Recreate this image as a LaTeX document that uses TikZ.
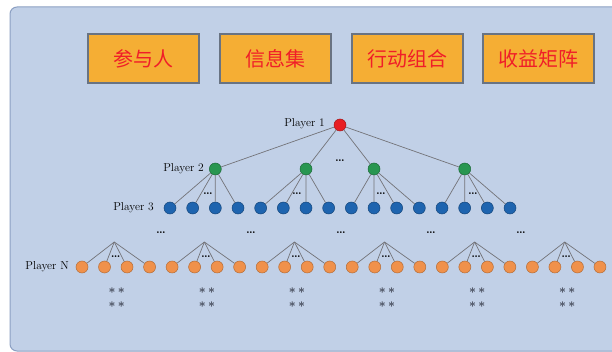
\documentclass[tikz,border=0pt]{standalone}
\usepackage{fontspec}
\newfontfamily\cjk{Noto Sans CJK SC}
\definecolor{panelfill}{RGB}{193,208,231}
\definecolor{paneldraw}{RGB}{140,160,195}
\definecolor{boxfill}{RGB}{245,174,52}
\definecolor{boxdraw}{RGB}{105,115,130}
\definecolor{boxtext}{RGB}{240,30,40}
\definecolor{nred}{RGB}{232,30,35}
\definecolor{ngreen}{RGB}{40,150,80}
\definecolor{nblue}{RGB}{30,100,175}
\definecolor{norange}{RGB}{240,145,75}
\definecolor{edgecol}{RGB}{115,115,120}
\definecolor{starcol}{RGB}{60,65,80}
\begin{document}
\begin{tikzpicture}[x=1pt,y=-1pt,
  topbox/.style={draw=boxdraw,line width=1.2pt,fill=boxfill,minimum width=111pt,minimum height=49pt,inner sep=0pt,text=boxtext,font=\cjk\fontsize{20}{20}\selectfont},
  dot/.style={circle,minimum size=12pt,inner sep=0pt,line width=0.5pt},
  rnode/.style={dot,fill=nred,draw=nred!70!black},
  gnode/.style={dot,fill=ngreen,draw=ngreen!70!black},
  bnode/.style={dot,fill=nblue,draw=nblue!70!black},
  onode/.style={dot,fill=norange,draw=norange!75!black},
  edge/.style={draw=edgecol,line width=0.7pt},
  lab/.style={anchor=east,inner sep=0pt,font=\fontsize{11.5}{13}\selectfont},
  dots/.style={inner sep=0pt,font=\fontsize{12}{12}\selectfont\bfseries},
  stars/.style={inner sep=0pt,text=starcol,font=\fontsize{12}{12}\selectfont\boldmath}
]
\useasboundingbox (0,0) rectangle (612,352);
\fill[white] (0,0) rectangle (612,352);
\begin{scope}
  \clip (0,0) rectangle (612,352);
  \draw[fill=panelfill,draw=paneldraw,line width=1pt,rounded corners=7pt] (10,7) rectangle (630,351);
\end{scope}

% top boxes
\node[topbox] (b1) at (143.5,58.5) {参与人};
\node[topbox] (b2) at (275.5,58.5) {信息集};
\node[topbox] (b3) at (407.5,58.5) {行动组合};
\node[topbox] (b4) at (538.5,58.5) {收益矩阵};

% level 1
\node[rnode] (p1) at (340,125) {};
\node[lab] (l1) at (325,124) {Player 1};

% level 2
\node[gnode] (p2-0) at (215.3,169) {};
\node[gnode] (p2-1) at (306,169) {};
\node[gnode] (p2-2) at (374,169) {};
\node[gnode] (p2-3) at (464.7,169) {};
\node[lab] (l2) at (204,169) {Player 2};
\node[dots] (d2) at (340,161) {\ldots};
\foreach \k in {0,...,3} \draw[edge] (p1) -- (p2-\k);

% level 3
\foreach \i in {0,...,15} \node[bnode] (c\i) at ({170+22.667*\i},208) {};
\node[lab] (l3) at (154,208) {Player 3};
\foreach \k in {0,...,3} {
  \foreach \j in {0,...,3} {
    \pgfmathtruncatemacro\n{4*\k+\j}
    \draw[edge] (p2-\k) -- (c\n);
  }
}
\foreach \x [count=\m] in {208,297,381,473} \node[dots] (d3-\m) at (\x,194) {\ldots};

% intermediate dots
\foreach \x [count=\m] in {161,251,341,431,521} \node[dots] (dm-\m) at (\x,233) {\ldots};

% level N
\foreach \i in {0,...,23} \node[onode] (n\i) at ({82+22.52*\i},267) {};
\node[lab] (ln) at (69,267) {Player N};
\foreach \k in {0,...,5} {
  \coordinate (t\k) at ({82+22.52*(4*\k+1.5)-1.5},242);
  \foreach \j in {0,...,3} {
    \pgfmathtruncatemacro\n{4*\k+\j}
    \draw[edge] (t\k) -- (n\n);
  }
  \node[dots] (dn-\k) at ({82+22.52*(4*\k+1.5)},257) {\ldots};
  \node[stars] (s1-\k) at ({82+22.52*(4*\k+1.5)+1},291) {$\ast\,\ast$};
  \node[stars] (s2-\k) at ({82+22.52*(4*\k+1.5)+1},305) {$\ast\,\ast$};
}
\end{tikzpicture}
\end{document}
